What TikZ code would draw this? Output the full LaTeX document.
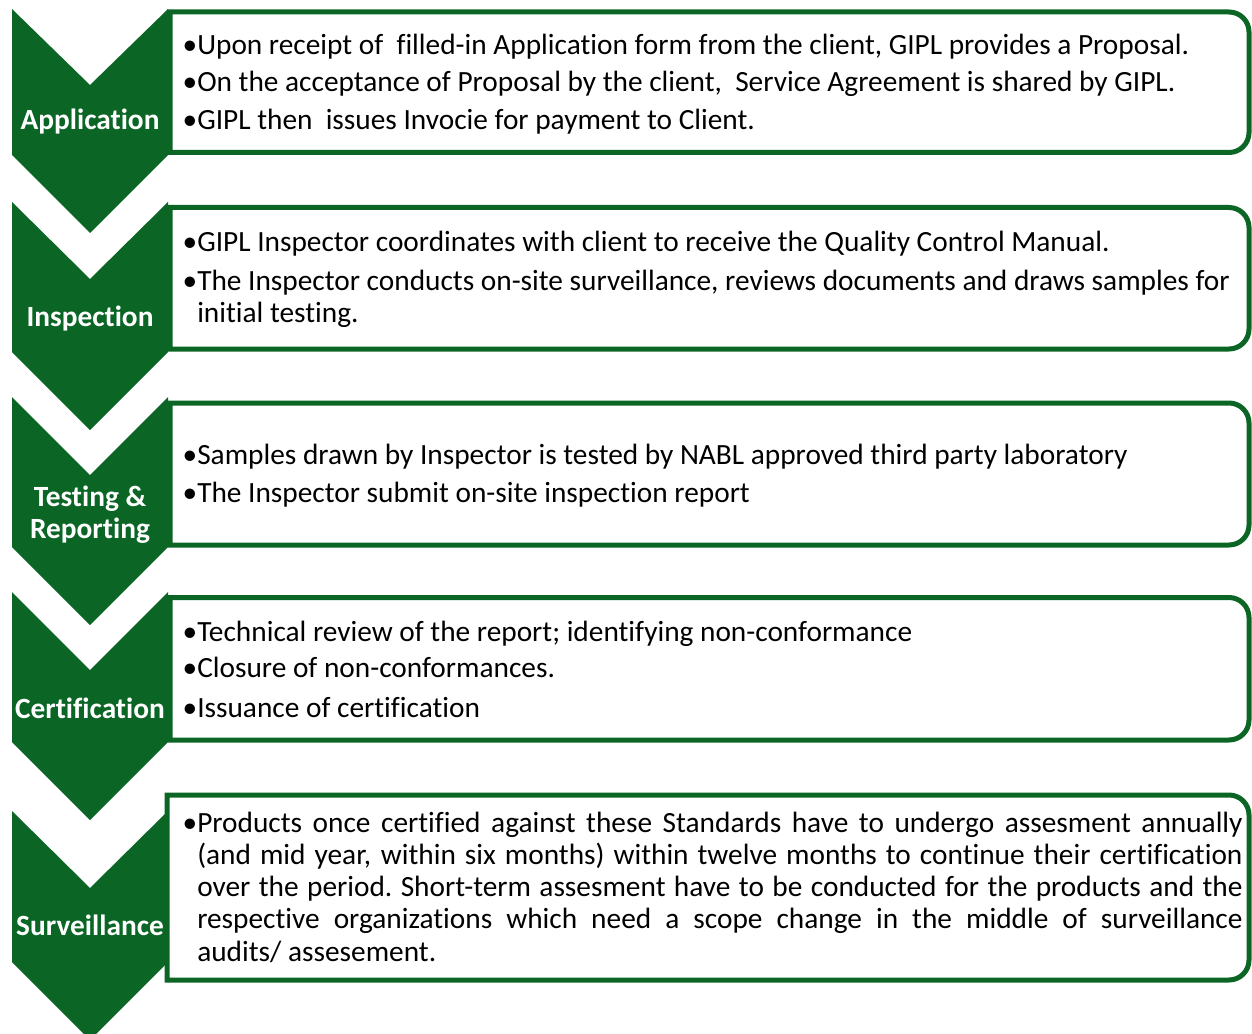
\documentclass[tikz,border=0pt]{standalone}
\usepackage{fontspec}
\setmainfont{Carlito}[Ligatures=NoCommon]
\definecolor{gr}{RGB}{11,102,38}
\begin{document}
\begin{tikzpicture}[x=0.75pt,y=-0.75pt,
  chev/.style={fill=gr, draw=none},
  gbox/.style={draw=gr, line width=3.75pt, fill=white},
  lbl/.style={text=white, font=\fontsize{22}{24}\selectfont\bfseries, inner sep=0pt, anchor=base, align=center},
  txt/.style={font=\fontsize{22}{24.2}\selectfont, inner sep=0pt, anchor=base west, text=black}]
\useasboundingbox[fill=white] (0,0) rectangle (1252,1034);

% boxes 1-4 (behind chevrons)
\draw[gbox] (170,12) -- (1229,12) arc[start angle=-90,end angle=0,radius=20] -- (1249,132.5) arc[start angle=0,end angle=90,radius=20] -- (170,152.5) -- cycle;
\draw[gbox] (170,207.5) -- (1229,207.5) arc[start angle=-90,end angle=0,radius=20] -- (1249,329) arc[start angle=0,end angle=90,radius=20] -- (170,349) -- cycle;
\draw[gbox] (170,403) -- (1229,403) arc[start angle=-90,end angle=0,radius=20] -- (1249,525) arc[start angle=0,end angle=90,radius=20] -- (170,545) -- cycle;
\draw[gbox] (170,597.5) -- (1229,597.5) arc[start angle=-90,end angle=0,radius=20] -- (1249,720) arc[start angle=0,end angle=90,radius=20] -- (170,740) -- cycle;

% chevrons
\fill[chev] (12,9) -- (90,85) -- (168,9) -- (168,155) -- (90,233) -- (12,155) -- cycle;
\fill[chev] (12,202) -- (90,279) -- (168,202) -- (168,352) -- (90,430) -- (12,352) -- cycle;
\fill[chev] (12,397) -- (90,475) -- (168,397) -- (168,547) -- (90,625) -- (12,547) -- cycle;
\fill[chev] (12,592) -- (90,670) -- (168,592) -- (168,742) -- (90,820) -- (12,742) -- cycle;
\fill[chev] (12,811) -- (90,888) -- (168,811) -- (168,962) -- (90,1040) -- (12,962) -- cycle;

% box 5 (over chevron)
\draw[gbox] (167,795) -- (1229,795) arc[start angle=-90,end angle=0,radius=20] -- (1249,960) arc[start angle=0,end angle=90,radius=20] -- (167,980) -- cycle;

% labels
\node[lbl] (l1) at (90,130) {Application};
\node[lbl] (l2) at (90,326) {Inspection};
\node[lbl] (l3) at (90,506) {\begin{tabular}[t]{@{}c@{}}Testing \&\\Reporting\end{tabular}};
\node[lbl] (l4) at (90,718) {Certification};
\node[lbl] (l5) at (90,935) {Surveillance};

% texts
\node[txt] (t1a) at (197,55) {\llap{•}Upon receipt of~ filled-in Application form from the client, GIPL provides a Proposal.};
\node[txt] (t1b) at (197,92) {\llap{•}On the acceptance of Proposal by the client,~ Service Agreement is shared by GIPL.};
\node[txt] (t1c) at (197,130) {\llap{•}GIPL then~ issues Invocie for payment to Client.};

\node[txt] (t2a) at (197,252) {\llap{•}GIPL Inspector coordinates with client to receive the Quality Control Manual.};
\node[txt] (t2b) at (197,290) {\parbox[t]{784pt}{\fontsize{22}{24.2}\selectfont\raggedright\leavevmode\llap{•}The Inspector conducts on-site surveillance, reviews documents and draws samples for\\ initial testing.}};

\node[txt] (t3a) at (197,464) {\llap{•}Samples drawn by Inspector is tested by NABL approved third party laboratory};
\node[txt] (t3b) at (197,502) {\llap{•}The Inspector submit on-site inspection report};

\node[txt] (t4a) at (197,641) {\llap{•}Technical review of the report; identifying non-conformance};
\node[txt] (t4b) at (197,677) {\llap{•}Closure of non-conformances.};
\node[txt] (t4c) at (197,717) {\llap{•}Issuance of certification};

\node[txt] (t5) at (197,832) {\parbox[t]{784pt}{\fontsize{22}{24.2}\selectfont\leavevmode\llap{•}Products once certified against these Standards have to undergo assesment annually\linebreak (and mid year, within six months) within twelve months to continue their certification\linebreak over the period.\ Short-term assesment have to be conducted for the products and the\linebreak respective organizations which need a scope change in the middle of surveillance\linebreak audits/ assesement.}};
\end{tikzpicture}
\end{document}
